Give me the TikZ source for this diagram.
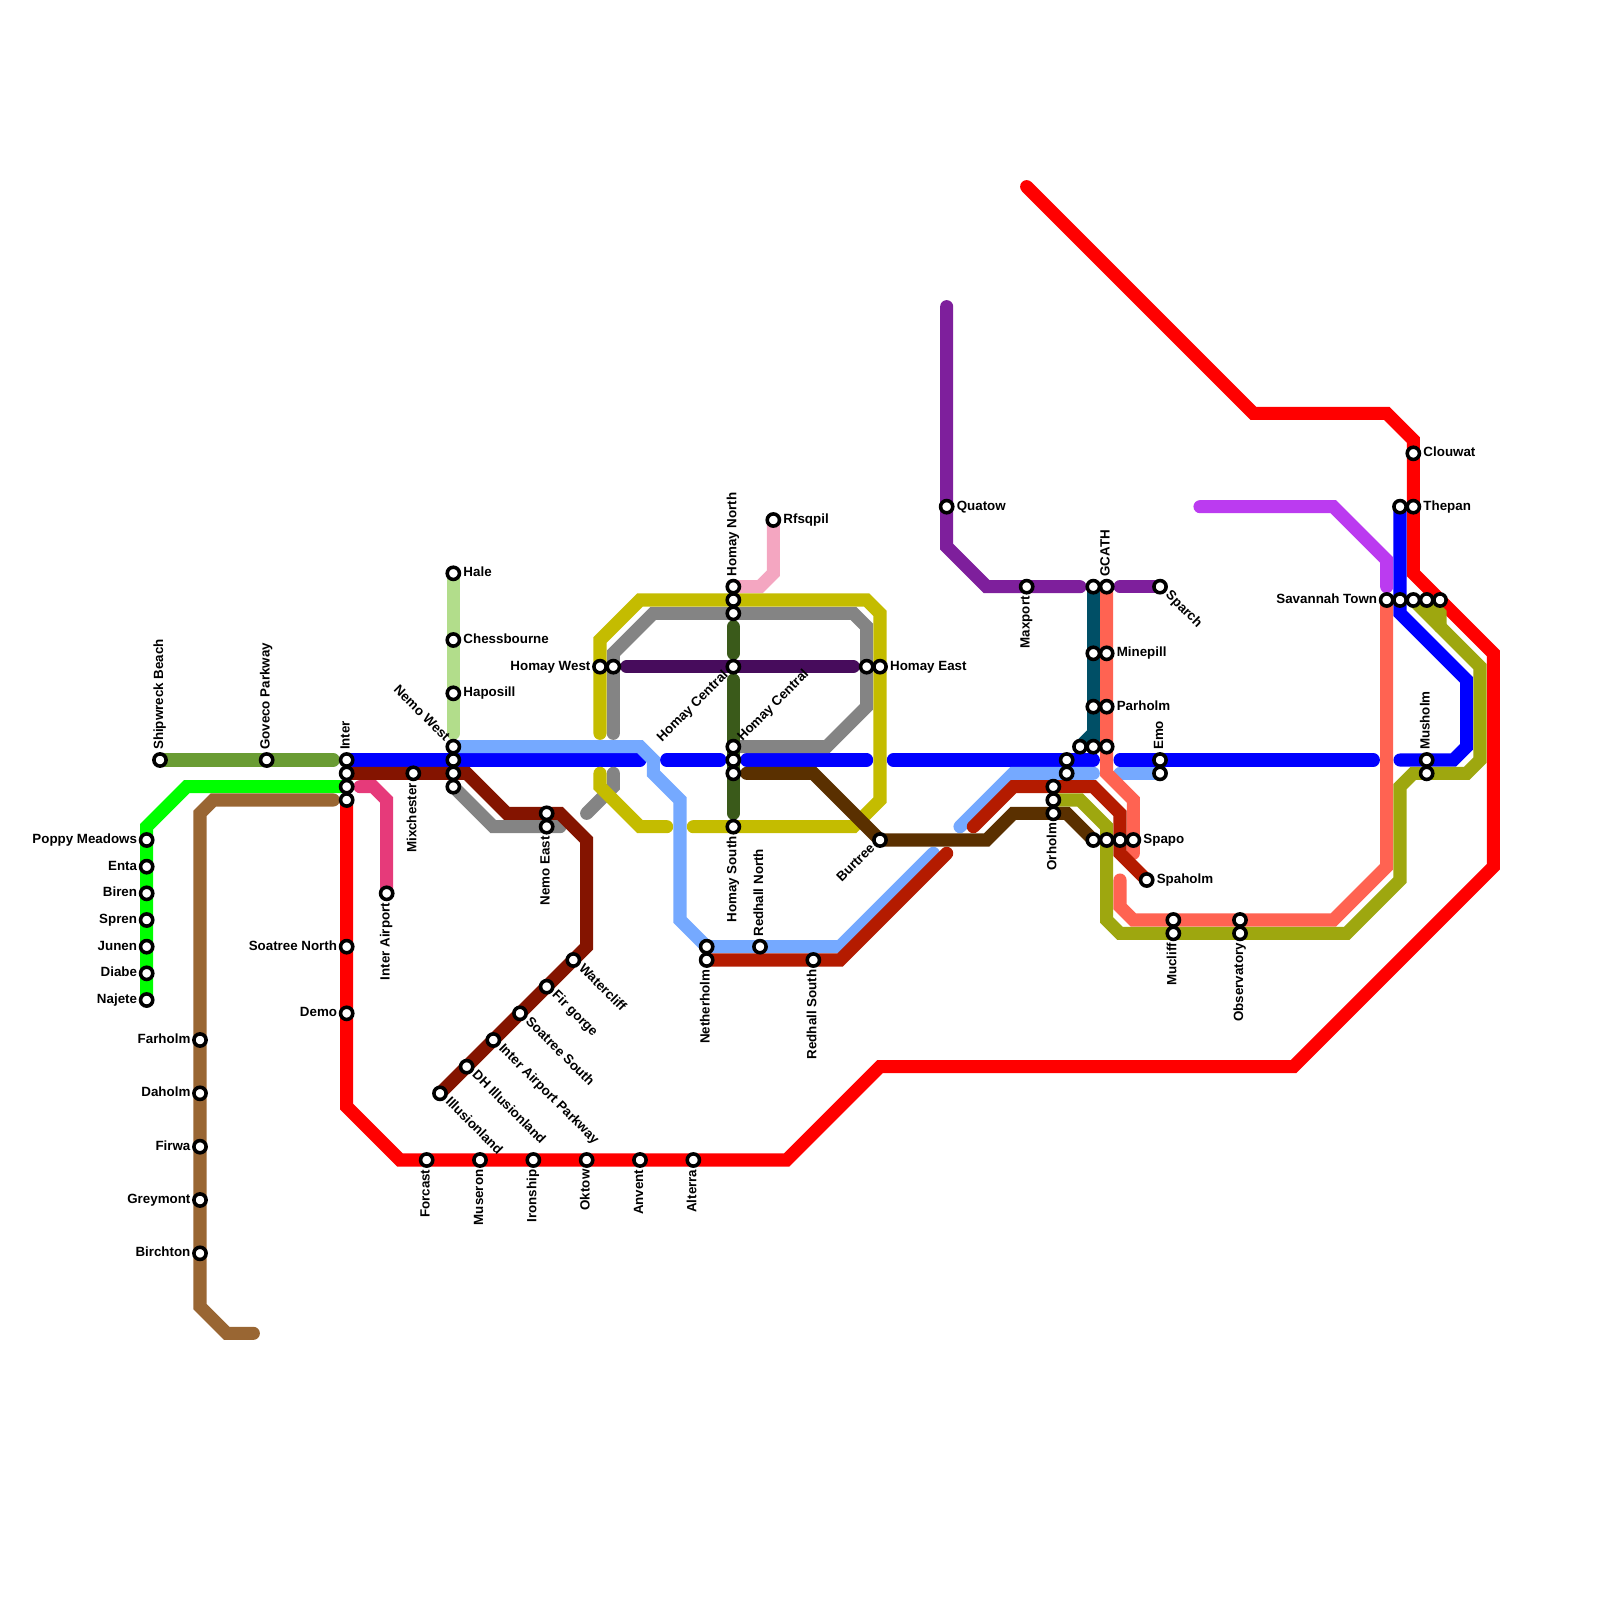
\documentclass[tikz,border=0pt]{standalone}
\usepackage{fontspec}
\setmainfont{Liberation Sans}
\usetikzlibrary{calc}
\pgfdeclarelayer{lines}
\pgfsetlayers{lines,main}
\definecolor{cOlivegreen}{HTML}{6A9C34}
\definecolor{cLime}{HTML}{00FF00}
\definecolor{cBrown}{HTML}{996633}
\definecolor{cRed}{HTML}{FF0000}
\definecolor{cBlue}{HTML}{0000FF}
\definecolor{cPink}{HTML}{E63A7A}
\definecolor{cLightpink}{HTML}{F4A6C1}
\definecolor{cLightgreen}{HTML}{B2DD8B}
\definecolor{cGray}{HTML}{848484}
\definecolor{cYellow}{HTML}{C4BC00}
\definecolor{cLightblue}{HTML}{75A9FF}
\definecolor{cDarkred}{HTML}{841400}
\definecolor{cRust}{HTML}{B41B00}
\definecolor{cCoral}{HTML}{FF6352}
\definecolor{cOlive}{HTML}{9EA70F}
\definecolor{cForest}{HTML}{3A5A1A}
\definecolor{cPlum}{HTML}{470C5C}
\definecolor{cUmber}{HTML}{5A3000}
\definecolor{cPurple}{HTML}{7E1F9C}
\definecolor{cTeal}{HTML}{004F66}
\definecolor{cViolet}{HTML}{BB3BF0}
\tikzset{
  stn/.style={circle,draw=black,fill=white,line width=0.08cm,inner sep=0pt,outer sep=0pt,minimum size=0.275cm},
  lab/.style={inner sep=0pt,outer sep=0pt,font=\fontsize{8.55}{10}\selectfont\bfseries,text=black},
  metro/.style={line width=0.295cm,line cap=round,line join=miter,miter limit=3,draw=#1}
}
\newcommand\st[3]{\node[stn] (#1) at (#2,#3) {};}
\newcommand\lE[3]{\ifnum#2=0 \def\bsl{0.08cm}\else\def\bsl{0.068cm}\fi
  \node[lab,rotate=#2,anchor=base west] (#1-l) at ($(#1.center)+(#2:0.228cm)+(#2-90:\bsl)$) {#3};}
\newcommand\lW[3]{\ifnum#2=0 \def\bsl{0.08cm}\else\def\bsl{0.068cm}\fi
  \node[lab,rotate=#2,anchor=base east] (#1-l) at ($(#1.center)+(#2+180:0.216cm)+(#2-90:\bsl)$) {#3};}
\begin{document}
\begin{tikzpicture}[x=0.3cm,y=-0.3cm]
\useasboundingbox (0,0) rectangle (120,120);
% stations
\st{ship}{12}{57}\lE{ship}{90}{Shipwreck Beach}
\st{gove}{20}{57}\lE{gove}{90}{Goveco Parkway}
\st{inter}{26}{57}\lE{inter}{90}{Inter}
\st{interb}{26}{58}\st{interc}{26}{59}\st{interd}{26}{60}
\st{popp}{11}{63}\lW{popp}{0}{Poppy Meadows}
\st{enta}{11}{65}\lW{enta}{0}{Enta}
\st{bire}{11}{67}\lW{bire}{0}{Biren}
\st{spre}{11}{69}\lW{spre}{0}{Spren}
\st{june}{11}{71}\lW{june}{0}{Junen}
\st{diab}{11}{73}\lW{diab}{0}{Diabe}
\st{naje}{11}{75}\lW{naje}{0}{Najete}
\st{farh}{15}{78}\lW{farh}{0}{Farholm}
\st{dahb}{15}{82}\lW{dahb}{0}{Daholm}
\st{firw}{15}{86}\lW{firw}{0}{Firwa}
\st{grey}{15}{90}\lW{grey}{0}{Greymont}
\st{birc}{15}{94}\lW{birc}{0}{Birchton}
\st{soan}{26}{71}\lW{soan}{0}{Soatree North}
\st{demo}{26}{76}\lW{demo}{0}{Demo}
\st{iair}{29}{67}\lW{iair}{90}{Inter Airport}
\st{mixc}{31}{58}\lW{mixc}{90}{Mixchester}
\st{hale}{34}{43}\lE{hale}{0}{Hale}
\st{ches}{34}{48}\lE{ches}{0}{Chessbourne}
\st{hapo}{34}{52}\lE{hapo}{0}{Haposill}
\st{nemw}{34}{56}\lW{nemw}{-45}{Nemo West}
\st{nemb}{34}{57}\st{nemc}{34}{58}\st{nemd}{34}{59}
\st{neea}{41}{61}\st{neeb}{41}{62}\lW{neeb}{90}{Nemo East}
\st{homw}{45}{50}\lW{homw}{0}{Homay West}
\st{homx}{46}{50}
\st{homn}{55}{44}\lE{homn}{90}{Homay North}
\st{homo}{55}{45}\st{homp}{55}{46}
\st{hcea}{55}{50}\lW{hcea}{45}{Homay Central}
\st{hceb}{55}{56}\lE{hceb}{45}{Homay Central}
\st{hcec}{55}{57}\st{hced}{55}{58}
\st{homs}{55}{62}\lW{homs}{90}{Homay South}
\st{rfsq}{58}{39}\lE{rfsq}{0}{Rfsqpil}
\st{neta}{53}{71}\st{netb}{53}{72}\lW{netb}{90}{Netherholm}
\st{redn}{57}{71}\lE{redn}{90}{Redhall North}
\st{reds}{61}{72}\lW{reds}{90}{Redhall South}
\st{home}{66}{50}\lE{home}{0}{Homay East}
\st{homf}{65}{50}
\st{burt}{66}{63}\lW{burt}{45}{Burtree}
\st{quat}{71}{38}\lE{quat}{0}{Quatow}
\st{maxp}{77}{44}\lW{maxp}{90}{Maxport}
\st{gcaa}{82}{44}\st{gcat}{83}{44}\lE{gcat}{90}{GCATH}
\st{mina}{82}{49}\st{minb}{83}{49}\lE{minb}{0}{Minepill}
\st{para}{82}{53}\st{parb}{83}{53}\lE{parb}{0}{Parholm}
\st{juna}{81}{56}\st{junb}{82}{56}\st{junc}{83}{56}
\st{cena}{80}{57}\st{cenb}{80}{58}
\st{orha}{79}{59}\st{orhb}{79}{60}\st{orhc}{79}{61}\lW{orhc}{90}{Orholm}
\st{spaa}{82}{63}\st{spab}{83}{63}\st{spac}{84}{63}\st{spap}{85}{63}\lE{spap}{0}{Spapo}
\st{spah}{86}{66}\lE{spah}{0}{Spaholm}
\st{emoa}{87}{57}\lE{emoa}{90}{Emo}
\st{emob}{87}{58}
\st{spar}{87}{44}\lE{spar}{-45}{Sparch}
\st{muca}{88}{69}\st{mucb}{88}{70}\lW{mucb}{90}{Mucliff}
\st{obsa}{93}{69}\st{obsb}{93}{70}\lW{obsb}{90}{Observatory}
\st{sava}{104}{45}\lW{sava}{0}{Savannah Town}
\st{savb}{105}{45}\st{savc}{106}{45}\st{savd}{107}{45}\st{save}{108}{45}
\st{thea}{105}{38}\st{theb}{106}{38}\lE{theb}{0}{Thepan}
\st{clou}{106}{34}\lE{clou}{0}{Clouwat}
\st{musa}{107}{57}\lE{musa}{90}{Musholm}
\st{musb}{107}{58}
\st{illu}{33}{82}\lE{illu}{-45}{Illusionland}
\st{dhil}{35}{80}\lE{dhil}{-45}{DH Illusionland}
\st{iapk}{37}{78}\lE{iapk}{-45}{Inter Airport Parkway}
\st{soas}{39}{76}\lE{soas}{-45}{Soatree South}
\st{firg}{41}{74}\lE{firg}{-45}{Fir gorge}
\st{watr}{43}{72}\lE{watr}{-45}{Watercliff}
\st{forc}{32}{87}\lW{forc}{90}{Forcast}
\st{muse}{36}{87}\lW{muse}{90}{Museron}
\st{iron}{40}{87}\lW{iron}{90}{Ironship}
\st{okto}{44}{87}\lW{okto}{90}{Oktow}
\st{anve}{48}{87}\lW{anve}{90}{Anvent}
\st{alte}{52}{87}\lW{alte}{90}{Alterra}
% lines
\begin{pgfonlayer}{lines}
\draw[metro=cOlivegreen] (ship.center) -- (25,57);
\draw[metro=cLime] (naje.center) -- (11,62) -- (14,59) -- (interc.center);
\draw[metro=cBrown] (19,100) -- (17,100) -- (15,98) -- (15,61) -- (16,60) -- (25,60);
\draw[metro=cRed] (interd.center) -- (26,83) -- (30,87) -- (59,87) -- (66,80) -- (97,80) -- (112,65) -- (112,49) -- (106,43) -- (106,33) -- (104,31) -- (94,31) -- (77,14);
\draw[metro=cBlue] (inter.center) -- (48,57);
\draw[metro=cBlue] (50,57) -- (54,57);
\draw[metro=cBlue] (56,57) -- (65,57);
\draw[metro=cBlue] (67,57) -- (82,57);
\draw[metro=cBlue] (84,57) -- (103,57);
\draw[metro=cBlue] (105,57) -- (109,57) -- (110,56) -- (110,51) -- (105,46) -- (thea.center);
\draw[metro=cPink] (27,59) -- (28,59) -- (29,60) -- (iair.center);
\draw[metro=cLightpink] (rfsq.center) -- (58,43) -- (57,44) -- (homn.center);
\draw[metro=cLightgreen] (hale.center) -- (34,55);
\draw[metro=cGray] (nemd.center) -- (37,62) -- (42,62);
\draw[metro=cGray] (46,58) -- (46,59) -- (44,61);
\draw[metro=cGray] (46,55) -- (46,49) -- (49,46) -- (64,46) -- (65,47) -- (65,53) -- (62,56) -- (hceb.center);
\draw[metro=cYellow] (45,55) -- (45,48) -- (48,45) -- (65,45) -- (66,46) -- (66,60) -- (64,62) -- (52,62);
\draw[metro=cYellow] (45,58) -- (45,59) -- (48,62) -- (50,62);
\draw[metro=cLightblue] (nemw.center) -- (48,56) -- (49,57) -- (49,58) -- (51,60) -- (51,69) -- (53,71) -- (63,71) -- (70,64);
\draw[metro=cLightblue] (72,62) -- (76,58) -- (82,58);
\draw[metro=cLightblue] (84,58) -- (emob.center);
\draw[metro=cDarkred] (interb.center) -- (35,58) -- (38,61) -- (42,61) -- (44,63) -- (44,71) -- (illu.center);
\draw[metro=cCoral] (gcat.center) -- (83,58) -- (85,60) -- (85,64);
\draw[metro=cCoral] (84,66) -- (84,68) -- (85,69) -- (100,69) -- (104,65) -- (sava.center);
\draw[metro=cRust] (netb.center) -- (63,72) -- (71,64);
\draw[metro=cRust] (73,62) -- (76,59) -- (82,59) -- (84,61) -- (84,64) -- (spah.center);
\draw[metro=cOlive] (orhb.center) -- (81,60) -- (83,62) -- (83,69) -- (84,70) -- (101,70) -- (105,66) -- (105,59) -- (106,58) -- (110,58) -- (111,57) -- (111,50) -- (savc.center);
\draw[metro=cOlive] (savd.center) -- (108,46) -- (108,47);
\draw[metro=cForest] (55,47) -- (55,49);
\draw[metro=cForest] (55,51) -- (55,61);
\draw[metro=cPlum] (47,50) -- (64,50);
\draw[metro=cUmber] (56,58) -- (61,58) -- (burt.center) -- (74,63) -- (76,61) -- (80,61) -- (spaa.center);
\draw[metro=cPurple] (71,23) -- (71,41) -- (74,44) -- (81,44);
\draw[metro=cPurple] (84,44) -- (spar.center);
\draw[metro=cTeal] (gcaa.center) -- (junb.center);
\draw[metro=cTeal,line cap=butt] (82,55) -- (juna.center);
\draw[metro=cViolet] (90,38) -- (100,38) -- (104,42) -- (104,44);
\end{pgfonlayer}
\end{tikzpicture}
\end{document}
